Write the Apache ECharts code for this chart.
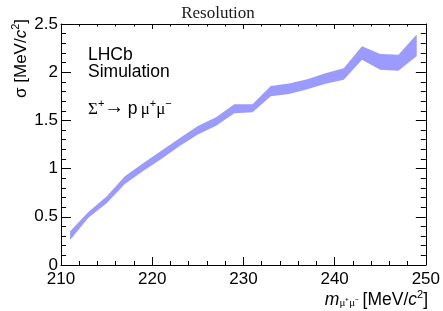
<!DOCTYPE html>
<html>
<head>
<meta charset="utf-8">
<script src="https://cdn.jsdelivr.net/npm/echarts@6/dist/echarts.min.js"></script>
<style>
  html, body { margin: 0; padding: 0; background: #fff; }
  #chart { width: 443px; height: 311px; }
</style>
</head>
<body>
<div id="chart"></div>
<script>
// 质量点 (MeV/c^2)
var massPoints = [211, 213, 215, 217, 219, 221, 223, 225, 227, 229,
                  231, 233, 235, 237, 239, 241, 243, 245, 247, 249];
// 分辨率带 下沿 / 上沿
var sigmaLow = [0.26, 0.49, 0.64, 0.84, 0.975, 1.10, 1.235, 1.355, 1.445, 1.575,
                1.585, 1.75, 1.775, 1.822, 1.88, 1.922, 2.13, 2.025, 2.015, 2.168];
var sigmaHigh = [0.35, 0.55, 0.71, 0.92, 1.055, 1.186, 1.314, 1.442, 1.532, 1.667,
                 1.668, 1.857, 1.882, 1.926, 1.988, 2.04, 2.268, 2.188, 2.18, 2.392];
var xTicks = [210, 220, 230, 240, 250];
var yTicks = [0, 0.5, 1, 1.5, 2, 2.5];

var SANS = "'Liberation Sans', Arial, Helvetica, sans-serif";
var SERIF = "'Liberation Serif', 'Times New Roman', serif";
var bandColor = "#9a9aff";

var chart = echarts.init(document.getElementById("chart"));

var bandData = massPoints.map(function (m, i) { return [m, sigmaLow[i], sigmaHigh[i]]; });

// 整条带画成一个多边形（上沿正向 + 下沿反向）
function renderBand(params, api) {
  if (params.dataIndex !== 0) return null;
  var pts = [];
  for (var i = 0; i < bandData.length; i++) {
    pts.push(api.coord([bandData[i][0], bandData[i][2]]));
  }
  for (var j = bandData.length - 1; j >= 0; j--) {
    pts.push(api.coord([bandData[j][0], bandData[j][1]]));
  }
  return {
    type: "polygon",
    shape: { points: pts },
    style: { fill: bandColor, stroke: null }
  };
}

function xAxisCfg(pos) {
  var bottom = pos === "bottom";
  return {
    type: "value",
    position: pos,
    min: xTicks[0],
    max: xTicks[xTicks.length - 1],
    interval: 10,
    axisLine: { show: true, onZero: false, lineStyle: { color: "#000", width: 1 } },
    axisTick: { show: true, inside: true, length: bottom ? 8 : 5, lineStyle: { color: "#000" } },
    minorTick: { show: true, splitNumber: 5, length: bottom ? 4 : 2.5, lineStyle: { color: "#000" } },
    splitLine: { show: false },
    axisLabel: {
      show: bottom, margin: 6, color: "#000",
      fontFamily: SANS, fontSize: 17
    }
  };
}

function yAxisCfg(pos) {
  var left = pos === "left";
  return {
    type: "value",
    position: pos,
    min: yTicks[0],
    max: yTicks[yTicks.length - 1],
    interval: 0.5,
    axisLine: { show: true, onZero: false, lineStyle: { color: "#000", width: 1 } },
    axisTick: { show: true, inside: true, length: 10, lineStyle: { color: "#000" } },
    minorTick: { show: true, splitNumber: 5, length: 5, lineStyle: { color: "#000" } },
    splitLine: { show: false },
    axisLabel: {
      show: left, margin: 3, color: "#000",
      fontFamily: SANS, fontSize: 17
    }
  };
}

chart.setOption({
  animation: false,
  backgroundColor: "#fff",
  grid: { left: 61, right: 15, top: 24, bottom: 46, containLabel: false },
  xAxis: [xAxisCfg("bottom"), xAxisCfg("top")],
  yAxis: [yAxisCfg("left"), yAxisCfg("right")],
  series: [
    {
      name: "band",
      type: "custom",
      xAxisIndex: 0,
      yAxisIndex: 0,
      data: bandData,
      encode: { x: 0, y: [1, 2] },
      renderItem: renderBand,
      clip: true,
      silent: true
    }
  ],
  graphic: [
    {
      type: "text", x: 218, y: 5,
      style: { text: "Resolution", font: "17px " + SERIF, fill: "#1a1a1a", align: "center" }
    },
    {
      type: "text", x: 88, y: 46,
      style: { text: "LHCb", font: "17.5px " + SANS, fill: "#000" }
    },
    {
      type: "text", x: 88, y: 63,
      style: { text: "Simulation", font: "17.5px " + SANS, fill: "#000" }
    },
    {
      type: "text", x: 88, y: 98,
      style: {
        text: "{g|Σ}{sup|+}{a|→} {n|p} {g|μ}{sup|+}{g|μ}{sup|−}",
        rich: {
          g: { fontFamily: SERIF, fontSize: 17, fill: "#000", verticalAlign: "bottom", lineHeight: 20 },
          a: { fontFamily: SERIF, fontSize: 20, fill: "#000", verticalAlign: "bottom", lineHeight: 20 },
          n: { fontFamily: SANS, fontSize: 17.5, fill: "#000", verticalAlign: "bottom", lineHeight: 20 },
          sup: { fontFamily: SANS, fontSize: 11, fill: "#000", verticalAlign: "top", lineHeight: 20 }
        }
      }
    },
    {
      type: "text", x: 20, y: 19, rotation: Math.PI / 2,
      style: {
        text: "{n|σ [MeV/}{i|c}{sup|2}{n|]}",
        align: "right", verticalAlign: "middle",
        rich: {
          n: { fontFamily: SANS, fontSize: 17, fill: "#000", verticalAlign: "bottom", lineHeight: 20 },
          i: { fontFamily: SANS, fontStyle: "italic", fontSize: 17, fill: "#000", verticalAlign: "bottom", lineHeight: 20 },
          sup: { fontFamily: SANS, fontSize: 11, fill: "#000", verticalAlign: "top", lineHeight: 20 }
        }
      }
    },
    {
      type: "text", x: 428, y: 299,
      style: {
        text: "{i|m}{sub|μ⁺μ⁻} {n|[MeV/}{i|c}{sup|2}{n|]}",
        align: "right", verticalAlign: "middle",
        rich: {
          n: { fontFamily: SANS, fontSize: 17.5, fill: "#000", verticalAlign: "bottom", lineHeight: 20 },
          i: { fontFamily: SANS, fontStyle: "italic", fontSize: 17.5, fill: "#000", verticalAlign: "bottom", lineHeight: 20 },
          sub: { fontFamily: SERIF, fontSize: 11, fill: "#000", verticalAlign: "bottom", lineHeight: 20 },
          sup: { fontFamily: SANS, fontSize: 11, fill: "#000", verticalAlign: "top", lineHeight: 20 }
        }
      }
    }
  ]
});

window.addEventListener("resize", function () {
  chart.resize();
});
</script>
</body>
</html>
